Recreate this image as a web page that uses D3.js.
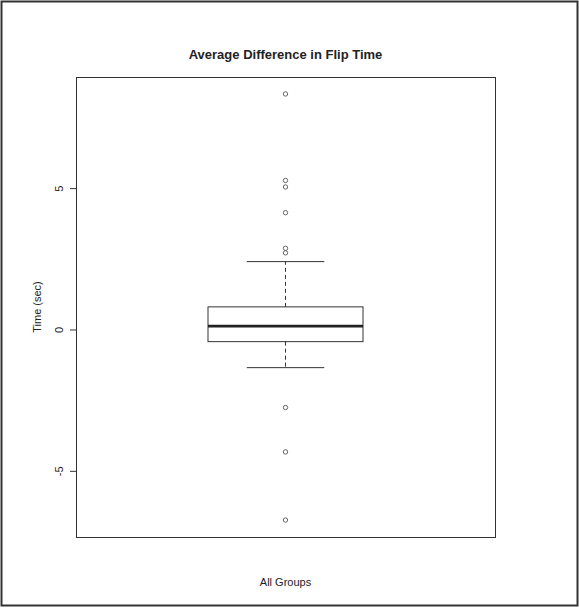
<!DOCTYPE html>
<html>
<head>
<meta charset="utf-8">
<script src="https://cdn.jsdelivr.net/npm/d3@7"></script>
<style>
  body { margin: 0; background: #fff; }
  text { font-family: "Liberation Sans", Arial, sans-serif; fill: #222; }
</style>
</head>
<body>
<div class="chart"></div>
<script>
// boxplot stats
const groups = ['All Groups'];
const stats = [{lower: -1.35, q1: -0.43, median: 0.12, q3: 0.80, upper: 2.40}];
const outliers = [8.33, 5.27, 5.04, 4.13, 2.87, 2.71, -2.76, -4.33, -6.74];
const yTicks = [-5, 0, 5];

const width = 579;
const height = 608;
const margin = {top: 77, left: 76, right: 84, bottom: 71};

const svg = d3.select('.chart').append('svg')
  .attr('width', width)
  .attr('height', height);

// outer frame
svg.append('rect')
  .attr('x', 1.5).attr('y', 1.5)
  .attr('width', width - 3).attr('height', height - 4)
  .attr('fill', 'none').attr('stroke', '#333').attr('stroke-width', 2);

const x = d3.scaleBand()
  .domain(groups)
  .range([margin.left, width - margin.right]);

const y = d3.scaleLinear()
  .domain([-7.34, 8.93])
  .range([height - margin.bottom, margin.top]);

const boxW = 155;

// y axis
const yAxis = svg.append('g')
  .attr('transform', `translate(${margin.left},0)`)
  .call(d3.axisLeft(y).tickValues(yTicks).tickSize(6).tickFormat(d3.format('d')));
yAxis.select('.domain').remove();
yAxis.selectAll('line').attr('stroke', '#333');
yAxis.selectAll('text').remove();
yAxis.selectAll('.tick').append('text')
  .attr('transform', 'translate(-13,0) rotate(-90)')
  .attr('text-anchor', 'middle')
  .attr('font-size', 11)
  .text(d => d);

// plot box
svg.append('rect')
  .attr('x', margin.left + 0.5).attr('y', margin.top + 0.5)
  .attr('width', width - margin.left - margin.right)
  .attr('height', height - margin.top - margin.bottom)
  .attr('fill', 'none').attr('stroke', '#333');

const g = svg.selectAll('.box')
  .data(stats)
  .enter().append('g')
  .attr('class', 'box');

const cx = (d, i) => x(groups[i]) + x.bandwidth() / 2;

// whiskers
g.append('line')
  .attr('x1', cx).attr('x2', cx)
  .attr('y1', d => y(d.q3)).attr('y2', d => y(d.upper))
  .attr('stroke', '#333').attr('stroke-dasharray', '4,3');
g.append('line')
  .attr('x1', cx).attr('x2', cx)
  .attr('y1', d => y(d.q1)).attr('y2', d => y(d.lower))
  .attr('stroke', '#333').attr('stroke-dasharray', '4,3');
['upper', 'lower'].forEach(k => {
  g.append('line')
    .attr('x1', (d, i) => cx(d, i) - boxW / 4).attr('x2', (d, i) => cx(d, i) + boxW / 4)
    .attr('y1', d => y(d[k])).attr('y2', d => y(d[k]))
    .attr('stroke', '#333');
});

// box
g.append('rect')
  .attr('x', (d, i) => cx(d, i) - boxW / 2)
  .attr('y', d => y(d.q3))
  .attr('width', boxW)
  .attr('height', d => y(d.q1) - y(d.q3))
  .attr('fill', 'none').attr('stroke', '#333');

// median
g.append('line')
  .attr('x1', (d, i) => cx(d, i) - boxW / 2).attr('x2', (d, i) => cx(d, i) + boxW / 2)
  .attr('y1', d => y(d.median)).attr('y2', d => y(d.median))
  .attr('stroke', '#222').attr('stroke-width', 2.7);

// outliers
svg.selectAll('.out')
  .data(outliers)
  .enter().append('circle')
  .attr('class', 'out')
  .attr('cx', x(groups[0]) + x.bandwidth() / 2)
  .attr('cy', d => y(d))
  .attr('r', 2.2)
  .attr('fill', 'none').attr('stroke', '#666');

// titles
svg.append('text')
  .attr('x', (margin.left + width - margin.right) / 2)
  .attr('y', 59)
  .attr('text-anchor', 'middle')
  .attr('font-size', 13)
  .attr('font-weight', 'bold')
  .text('Average Difference in Flip Time');

svg.append('text')
  .attr('x', (margin.left + width - margin.right) / 2)
  .attr('y', 586)
  .attr('text-anchor', 'middle')
  .attr('font-size', 11)
  .text(groups[0]);

svg.append('text')
  .attr('transform', `translate(41,${(margin.top + height - margin.bottom) / 2}) rotate(-90)`)
  .attr('text-anchor', 'middle')
  .attr('font-size', 11)
  .text('Time (sec)');
</script>
</body>
</html>
